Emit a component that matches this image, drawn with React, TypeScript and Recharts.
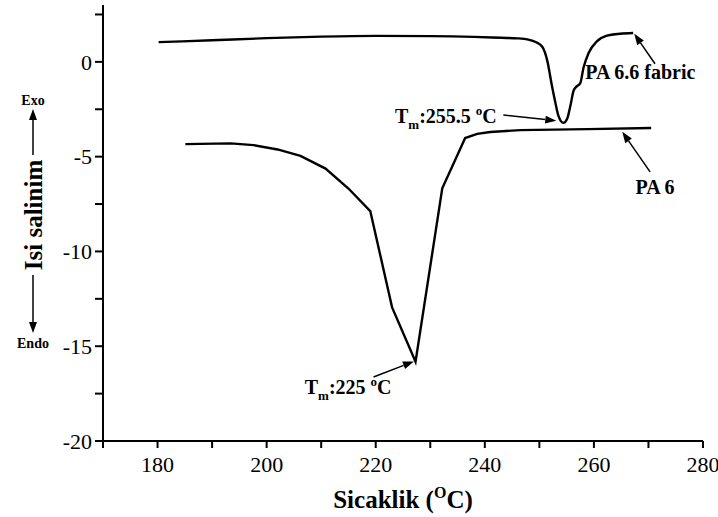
import React from "react";
import { LineChart, Line, XAxis, YAxis, ReferenceLine, ReferenceDot } from "recharts";

const FONT = '"Liberation Serif", "Times New Roman", Times, serif';

// PA 6.6 fabric curve (temperature °C, heat flow)
const pa66Temp = [
  180.2, 190, 200, 210, 220, 230, 238, 243, 246, 248, 249.3, 250.5, 251.5, 252.2, 252.9,
  253.5, 254.4, 255.1, 255.7, 256.3, 256.9, 257.5, 258.1, 259.0, 260.5, 262.4, 264.8, 267.2,
];
const pa66Heat = [
  1.04, 1.14, 1.25, 1.33, 1.37, 1.36, 1.32, 1.27, 1.24, 1.17, 1.05, 0.81, 0.0, -1.1, -2.1,
  -2.85, -3.22, -3.0, -2.3, -1.5, -1.28, -1.12, -0.3, 0.45, 1.07, 1.38, 1.48, 1.52,
];

// PA 6 curve
const pa6Temp = [
  185.1, 193.4, 197.6, 202.0, 206.2, 210.8, 215.0, 219.0, 223.0, 227.3, 232.2, 236.4,
  238.6, 241.0, 246.5, 258.8, 270.5,
];
const pa6Heat = [
  -4.34, -4.3, -4.39, -4.62, -4.96, -5.63, -6.68, -7.87, -12.95, -15.82, -6.67, -4.02,
  -3.8, -3.7, -3.6, -3.55, -3.49,
];

const xTicks = [170, 180, 190, 200, 210, 220, 230, 240, 250, 260, 270, 280];
const yTicks = [-20, -17.5, -15, -12.5, -10, -7.5, -5, -2.5, 0, 2.5];

const toRows = (t: number[], h: number[]) => t.map((x, i) => ({ t: x, q: h[i] }));
const pa66 = toRows(pa66Temp, pa66Heat);
const pa6 = toRows(pa6Temp, pa6Heat);

// line with a filled arrow head at (x2, y2)
const Arrow = (props: any) => {
  const { x1, y1, x2, y2 } = props;
  const a = Math.atan2(y2 - y1, x2 - x1);
  const len = 11;
  const half = 4;
  const bx = x2 - len * Math.cos(a);
  const by = y2 - len * Math.sin(a);
  const px = -Math.sin(a) * half;
  const py = Math.cos(a) * half;
  return (
    <g>
      <line x1={x1} y1={y1} x2={bx} y2={by} stroke="#000" strokeWidth={1.5} />
      <polygon points={`${x2},${y2} ${bx + px},${by + py} ${bx - px},${by - py}`} fill="#000" />
    </g>
  );
};

const MeltLabel = ({ cx, cy, value }: any) => (
  <text x={cx} y={cy} textAnchor="end" fontFamily={FONT} fontWeight="bold" fontSize={20} fill="#000">
    T
    <tspan fontSize={13} dy={6}>m</tspan>
    <tspan dy={-6}>:{value} </tspan>
    <tspan fontSize={13} dy={-8}>o</tspan>
    <tspan dy={8}>C</tspan>
  </text>
);

const NameLabel = ({ cx, cy, value, anchor }: any) => (
  <text x={cx} y={cy} textAnchor={anchor} fontFamily={FONT} fontWeight="bold" fontSize={20} fill="#000">
    {value}
  </text>
);

const YTitle = ({ viewBox }: any) => {
  const x = viewBox.x - 10;
  const cy = viewBox.y + 210;
  const arrowUp = { x1: x, y1: cy - 60, x2: x, y2: cy - 106 };
  const arrowDown = { x1: x, y1: cy + 60, x2: x, y2: cy + 118 };
  return (
    <g>
      <text
        x={x + 9}
        y={cy}
        transform={`rotate(-90, ${x + 9}, ${cy})`}
        textAnchor="middle"
        fontFamily={FONT}
        fontWeight="bold"
        fontSize={25}
        fill="#000"
      >
        Isi salinim
      </text>
      <Arrow {...arrowUp} />
      <Arrow {...arrowDown} />
      <text x={x} y={cy - 110} textAnchor="middle" fontFamily={FONT} fontWeight="bold" fontSize={14}>
        Exo
      </text>
      <text x={x} y={cy + 133} textAnchor="middle" fontFamily={FONT} fontWeight="bold" fontSize={14}>
        Endo
      </text>
    </g>
  );
};

const XTitle = ({ viewBox }: any) => (
  <text
    x={viewBox.x + viewBox.width / 2}
    y={viewBox.y + 67}
    textAnchor="middle"
    fontFamily={FONT}
    fontWeight="bold"
    fontSize={25}
    fill="#000"
  >
    Sicaklik (
    <tspan fontSize={16} dy={-10}>O</tspan>
    <tspan dy={10}>C)</tspan>
  </text>
);

const tickStyle = { fill: "#000", fontSize: 22, fontFamily: FONT };

export default function App() {
  return (
    <div style={{ position: "absolute", left: 0, top: 0, background: "#fff" }}>
      <LineChart width={718} height={517} margin={{ top: 5, right: 15, bottom: 46, left: 43 }}>
        <XAxis
          type="number"
          dataKey="t"
          domain={[170, 280]}
          ticks={xTicks}
          interval={0}
          allowDataOverflow
          tickFormatter={(v: number) => (v % 20 === 0 ? String(v) : "")}
          axisLine={{ stroke: "#000", strokeWidth: 2 }}
          tickLine={{ stroke: "#000", strokeWidth: 2 }}
          tickSize={7}
          tickMargin={8}
          tick={tickStyle}
          height={30}
          label={{ content: XTitle }}
        />
        <YAxis
          type="number"
          domain={[-20, 3]}
          ticks={yTicks}
          interval={0}
          allowDataOverflow
          tickFormatter={(v: number) => (v % 5 === 0 ? String(v) : "")}
          axisLine={{ stroke: "#000", strokeWidth: 2 }}
          tickLine={{ stroke: "#000", strokeWidth: 2 }}
          tickSize={8}
          tickMargin={3}
          tick={tickStyle}
          width={60}
          label={{ content: YTitle }}
        />
        <Line
          data={pa66}
          dataKey="q"
          type="monotone"
          stroke="#000"
          strokeWidth={2.4}
          dot={false}
          isAnimationActive={false}
        />
        <Line
          data={pa6}
          dataKey="q"
          type="linear"
          stroke="#000"
          strokeWidth={2.4}
          dot={false}
          isAnimationActive={false}
        />

        <ReferenceLine segment={[{ x: 243.4, y: -2.8 }, { x: 253.1, y: -3.11 }]} shape={Arrow} ifOverflow="visible" />
        <ReferenceDot x={242.2} y={-3.22} r={0} ifOverflow="visible" shape={(p: any) => <MeltLabel {...p} value="255.5" />} />

        <ReferenceLine segment={[{ x: 219.6, y: -16.62 }, { x: 227.0, y: -15.8 }]} shape={Arrow} ifOverflow="visible" />
        <ReferenceDot x={222.9} y={-17.5} r={0} ifOverflow="visible" shape={(p: any) => <MeltLabel {...p} value="225" />} />

        <ReferenceLine segment={[{ x: 271.2, y: -0.1 }, { x: 267.4, y: 1.48 }]} shape={Arrow} ifOverflow="visible" />
        <ReferenceDot x={258.4} y={-0.9} r={0} ifOverflow="visible" shape={(p: any) => <NameLabel {...p} value="PA 6.6 fabric" anchor="start" />} />

        <ReferenceLine segment={[{ x: 270.3, y: -5.8 }, { x: 265.2, y: -3.69 }]} shape={Arrow} ifOverflow="visible" />
        <ReferenceDot x={271.2} y={-6.97} r={0} ifOverflow="visible" shape={(p: any) => <NameLabel {...p} value="PA 6" anchor="middle" />} />
      </LineChart>
    </div>
  );
}
